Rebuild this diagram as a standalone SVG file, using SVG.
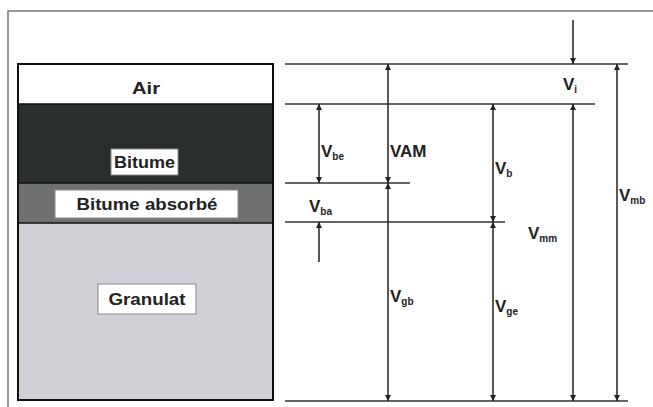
<svg xmlns="http://www.w3.org/2000/svg" width="653" height="407" viewBox="0 0 653 407">
<defs>
<marker id="ah" markerWidth="6" markerHeight="6" refX="6" refY="3" orient="auto-start-reverse" markerUnits="userSpaceOnUse">
<path d="M0,0 L6,3 L0,6 Z" fill="#222"/>
</marker>
<style>
.frame{stroke:#7a7a7a;stroke-width:1.5;fill:none}
.hl{stroke:#333;stroke-width:1.4}
.dim{stroke:#222;stroke-width:1.5}
.box{fill:#fff;stroke:#888;stroke-width:1}
.lbl{font-family:"Liberation Sans",Arial,sans-serif;font-weight:bold;font-size:16px;fill:#222;text-anchor:middle}
.v{font-family:"Liberation Sans",Arial,sans-serif;font-weight:bold;font-size:17px;fill:#222}
.s{font-size:10px}
</style>
</defs>
<rect width="653" height="407" fill="#fff"/>
<path class="frame" d="M653,11 H8 V407"/>

<g id="air">
<rect x="18" y="64" width="255" height="40" fill="#fff"/>
<text class="lbl" x="146" y="94" textLength="28" lengthAdjust="spacingAndGlyphs">Air</text>
</g>
<g id="bitume">
<rect x="18" y="104" width="255" height="79" fill="#2b2e2f"/>
<rect class="box" x="111" y="149" width="67" height="26"/>
<text class="lbl" x="144.5" y="168" textLength="61" lengthAdjust="spacingAndGlyphs">Bitume</text>
</g>
<g id="bitume-absorbe">
<rect x="18" y="183" width="255" height="40" fill="#6f7070"/>
<rect class="box" x="55" y="190" width="183" height="28"/>
<text class="lbl" x="147" y="210" textLength="141" lengthAdjust="spacingAndGlyphs">Bitume absorbé</text>
</g>
<g id="granulat">
<rect x="18" y="223" width="255" height="177" fill="#cfd1d6"/>
<rect class="box" x="98" y="284" width="98" height="30"/>
<text class="lbl" x="147" y="305" textLength="77" lengthAdjust="spacingAndGlyphs">Granulat</text>
</g>
<rect x="18" y="64" width="255" height="336" fill="none" stroke="#111" stroke-width="2"/>
<line x1="18" y1="104" x2="273" y2="104" stroke="#111" stroke-width="1.5"/>
<line x1="18" y1="183" x2="273" y2="183" stroke="#111" stroke-width="1.5"/>
<line x1="18" y1="223" x2="273" y2="223" stroke="#111" stroke-width="1.5"/>

<g id="connectors">
<line class="hl" x1="285" y1="64" x2="628" y2="64"/>
<line class="hl" x1="285" y1="104" x2="595" y2="104"/>
<line class="hl" x1="285" y1="183" x2="410" y2="183"/>
<line class="hl" x1="285" y1="222" x2="505" y2="222"/>
<line class="hl" x1="285" y1="401" x2="628" y2="401"/>
<line class="dim" x1="573" y1="20" x2="573" y2="64" marker-end="url(#ah)"/>
<line class="dim" x1="573" y1="104" x2="573" y2="401" marker-start="url(#ah)" marker-end="url(#ah)"/>
<line class="dim" x1="617" y1="64" x2="617" y2="401" marker-start="url(#ah)" marker-end="url(#ah)"/>
<line class="dim" x1="388" y1="64" x2="388" y2="183" marker-start="url(#ah)" marker-end="url(#ah)"/>
<line class="dim" x1="388" y1="183" x2="388" y2="401" marker-start="url(#ah)" marker-end="url(#ah)"/>
<line class="dim" x1="319" y1="104" x2="319" y2="183" marker-start="url(#ah)" marker-end="url(#ah)"/>
<line class="dim" x1="319" y1="262" x2="319" y2="222" marker-end="url(#ah)"/>
<line class="dim" x1="493" y1="104" x2="493" y2="222" marker-start="url(#ah)" marker-end="url(#ah)"/>
<line class="dim" x1="493" y1="222" x2="493" y2="401" marker-start="url(#ah)" marker-end="url(#ah)"/>
</g>

<g id="labels">
<text class="v" x="563" y="90">V<tspan class="s" dy="3">i</tspan></text>
<text class="v" x="321" y="157">V<tspan class="s" dy="3">be</tspan></text>
<text class="v" x="390" y="157">VAM</text>
<text class="v" x="495" y="174">V<tspan class="s" dy="3">b</tspan></text>
<text class="v" x="309" y="212">V<tspan class="s" dy="3">ba</tspan></text>
<text class="v" x="528" y="239">V<tspan class="s" dy="3">mm</tspan></text>
<text class="v" x="619" y="201">V<tspan class="s" dy="3">mb</tspan></text>
<text class="v" x="390" y="302">V<tspan class="s" dy="3">gb</tspan></text>
<text class="v" x="495" y="312">V<tspan class="s" dy="3">ge</tspan></text>
</g>
</svg>
